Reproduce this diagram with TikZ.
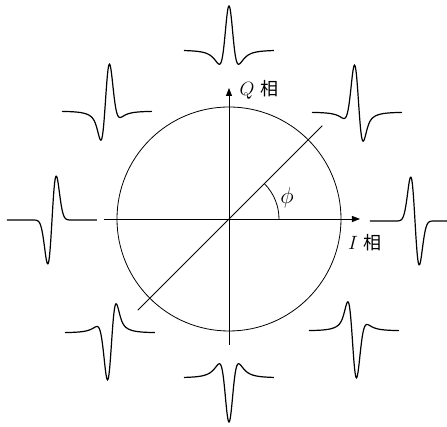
\documentclass[tikz,border=0pt]{standalone}
\usepackage{fontspec}
\newfontfamily\cjk{Noto Sans CJK SC}
\usetikzlibrary{arrows.meta}
\tikzset{
  every picture/.style={x=0.75pt, y=0.75pt, line width=0.6pt},
  axis/.style={-{Triangle[length=6pt, width=4.5pt]}},
  pulse/.style={line width=0.9pt, smooth, samples=181, domain=-7.5:7.5},
  lbl/.style={inner sep=1pt, font=\fontsize{13.5}{16}\selectfont},
  declare function={ipulse(\t)=-2*\t*exp(-\t*\t)/0.8578;
    qp(\v)=(1.05-12*\v-4*\v*\v)/(1.05+9*\v+36*\v*\v+80*\v*\v*\v);
    qpulse(\t)=qp(\t*\t/10);},
}
\begin{document}
\begin{tikzpicture}
  \useasboundingbox (-229,-208) rectangle (218,219);
  % axes and circle
  \coordinate (O) at (0,0);
  \coordinate (xl) at (-125,0); \coordinate (xr) at (131,0);
  \coordinate (yb) at (0,-126); \coordinate (yt) at (0,131);
  \coordinate (d1) at (225:129); \coordinate (d2) at (45:132);
  \draw (O) circle (112);
  \draw[axis] (xl) -- (xr);
  \draw[axis] (yb) -- (yt);
  \draw (d1) -- (d2);
  \draw (50,0) arc (0:45:50);
  \node[lbl, font=\fontsize{17}{20}\selectfont] (philab) at (58,21) {$\phi$};
  \node[lbl] (qlab) at (30,129) {$Q$ {\cjk 相}};
  \node[lbl] (ilab) at (136,-24) {$I$ {\cjk 相}};
  % pulses, one per phase
  \foreach \ang/\px/\py in {0/186/-2, 45/128/107, 90/0/169, 135/-122/108,
      180/-177/-1, 225/-119/-114, 270/0/-159, 315/125/-112} {
    \draw[pulse, shift={(\px,\py)}] plot ({6*\x}, {44*(cos(\ang)*ipulse(\x)+sin(\ang)*qpulse(\x))});
  }
\end{tikzpicture}
\end{document}
